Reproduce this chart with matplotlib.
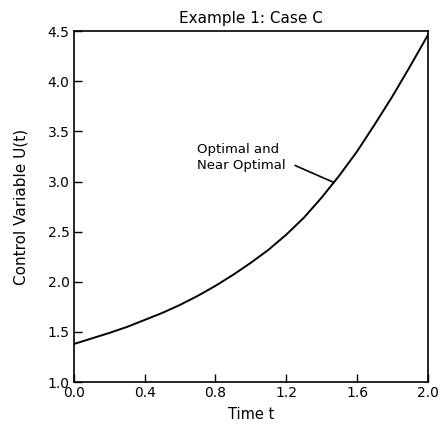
import matplotlib.pyplot as plt

# Data
time_t = [0.0, 0.1, 0.2, 0.3, 0.4, 0.5, 0.6, 0.7, 0.8, 0.9, 1.0,
          1.1, 1.2, 1.3, 1.4, 1.5, 1.6, 1.7, 1.8, 1.9, 2.0]
control_u = [1.38, 1.435, 1.49, 1.55, 1.62, 1.69, 1.77, 1.86, 1.96, 2.07, 2.19,
             2.32, 2.47, 2.64, 2.84, 3.06, 3.30, 3.57, 3.85, 4.15, 4.46]
x_ticks = [0.0, 0.4, 0.8, 1.2, 1.6, 2.0]
y_ticks = [1.0, 1.5, 2.0, 2.5, 3.0, 3.5, 4.0, 4.5]

fig = plt.figure(figsize=(4.42, 4.26), dpi=100)
ax = fig.add_axes([0.167, 0.103, 0.801, 0.824])

ax.plot(time_t, control_u, color="black", lw=1.4)
ax.set_xlim(0, 2.0)
ax.set_ylim(1.0, 4.5)
ax.set_xticks(x_ticks)
ax.set_yticks(y_ticks)
ax.set_xticklabels([f"{v:.1f}" for v in x_ticks])
ax.set_yticklabels([f"{v:.1f}" for v in y_ticks])
ax.tick_params(direction="in", length=6, width=1.0, labelsize=10, pad=3)
for s in ax.spines.values():
    s.set_linewidth(1.2)

ax.set_title("Example 1: Case C", fontsize=11, pad=6)
ax.set_xlabel("Time t", fontsize=10.5, labelpad=5)
ax.set_ylabel("Control Variable U(t)", fontsize=11, labelpad=14)

ax.text(0.695, 3.24, "Optimal and\nNear Optimal", fontsize=9.5, ha="left", va="center",
        linespacing=1.35)
ax.annotate("", xy=(1.47, 2.99), xytext=(1.25, 3.16),
            arrowprops=dict(arrowstyle="-", color="black", lw=1.2,
                            shrinkA=0, shrinkB=0))

fig.savefig("out.png", dpi=100)
